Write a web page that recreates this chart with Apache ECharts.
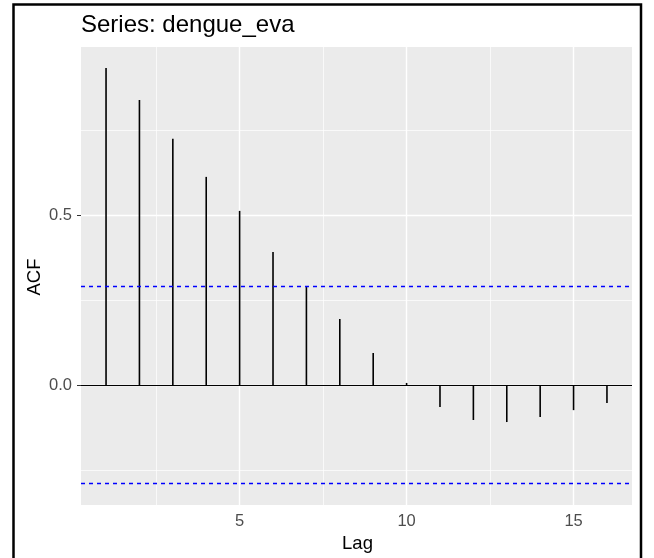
<!DOCTYPE html>
<html>
<head>
<meta charset="utf-8">
<script src="https://cdn.jsdelivr.net/npm/echarts@6/dist/echarts.min.js"></script>
<style>
html,body{margin:0;padding:0;background:#fff;}
#chart{width:654px;height:558px;}
</style>
</head>
<body>
<div id="chart"></div>
<script>
// ---- data ----
var lags = [1,2,3,4,5,6,7,8,9,10,11,12,13,14,15,16];
var acfValues = [0.932,0.838,0.724,0.612,0.512,0.391,0.288,0.194,0.094,0.006,-0.065,-0.103,-0.109,-0.094,-0.074,-0.053];
var ciBound = 0.289;
var xTicks = [5,10,15];
var yTicks = [0,0.5];
var yTickLabels = ['0.0','0.5'];
var xMinorGrid = [2.5,7.5,12.5];
var yMinorGrid = [-0.25,0.25,0.75];
var titleText = 'Series: dengue_eva';
var xName = 'Lag';
var yName = 'ACF';

var FONT = 'Liberation Sans, Arial, sans-serif';
var chart = echarts.init(document.getElementById('chart'));

var gridLines = [];
xMinorGrid.forEach(function(v){ gridLines.push({xAxis:v, lineStyle:{color:'#fff',width:0.7,type:'solid'}}); });
yMinorGrid.forEach(function(v){ gridLines.push({yAxis:v, lineStyle:{color:'#fff',width:0.7,type:'solid'}}); });
xTicks.forEach(function(v){ gridLines.push({xAxis:v, lineStyle:{color:'#fff',width:1.4,type:'solid'}}); });
yTicks.forEach(function(v){ gridLines.push({yAxis:v, lineStyle:{color:'#fff',width:1.4,type:'solid'}}); });

var option = {
  animation: false,
  backgroundColor: '#fff',
  title: {
    text: titleText, left: 81, top: 13, padding: 0,
    textStyle: {fontFamily: FONT, fontSize: 24, fontWeight: 'normal', color: '#000'}
  },
  grid: {
    left: 81, right: 22, top: 47, bottom: 53,
    show: true, backgroundColor: '#EBEBEB', borderWidth: 0
  },
  xAxis: {
    type: 'value', min: 0.25, max: 16.75,
    axisLine: {show: false},
    splitLine: {show: false},
    axisTick: {show: true, customValues: xTicks, length: 4, lineStyle: {color: '#333', width: 1}},
    axisLabel: {customValues: xTicks, color: '#4D4D4D', fontSize: 16.5, fontFamily: FONT, margin: 8}
  },
  yAxis: {
    type: 'value', min: -0.353, max: 0.994,
    axisLine: {show: false},
    splitLine: {show: false},
    axisTick: {show: true, customValues: yTicks, length: 4, lineStyle: {color: '#333', width: 1}},
    axisLabel: {customValues: yTicks, color: '#4D4D4D', fontSize: 16.5, fontFamily: FONT, margin: 9,
      formatter: function(v){ var i = yTicks.indexOf(v); return i >= 0 ? yTickLabels[i] : ''; }}
  },
  graphic: [
    {type: 'rect', shape: {x: 13.5, y: 4.5, width: 627.5, height: 570}, style: {fill: 'none', stroke: '#000', lineWidth: 2.5}, z: 100},
    {type: 'text', x: 35, y: 277, rotation: Math.PI/2,
      style: {text: yName, font: '18.5px ' + FONT, fill: '#000', textAlign: 'center', textVerticalAlign: 'middle'}},
    {type: 'text', x: 357.5, y: 544,
      style: {text: xName, font: '18.5px ' + FONT, fill: '#000', textAlign: 'center', textVerticalAlign: 'middle'}}
  ],
  series: [
    {
      type: 'line', data: [], z: 1, silent: true,
      markLine: {z: 1, silent: true, symbol: 'none', label: {show: false}, animation: false, data: gridLines}
    },
    {
      type: 'bar', z: 3, barWidth: 1.6, silent: true,
      itemStyle: {color: '#000'},
      data: lags.map(function(l, i){ return [l, acfValues[i]]; }),
      markLine: {z: 5, silent: true, symbol: 'none', label: {show: false}, animation: false,
        data: [
          {yAxis: 0, lineStyle: {color: '#000', width: 1.2, type: 'solid'}},
          {yAxis: ciBound, lineStyle: {color: '#0000FF', width: 1.3, type: [4,4]}},
          {yAxis: -ciBound, lineStyle: {color: '#0000FF', width: 1.3, type: [4,4]}}
        ]}
    }
  ]
};
chart.setOption(option);
</script>
</body>
</html>
